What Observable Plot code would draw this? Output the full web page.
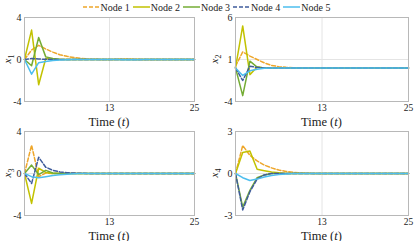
<!DOCTYPE html>
<html><head><meta charset="utf-8">
<script src="https://cdn.jsdelivr.net/npm/d3@7"></script>
<script src="https://cdn.jsdelivr.net/npm/@observablehq/plot@0.6"></script>
<style>
body{margin:0;background:#fff;}
#root{position:relative;width:416px;height:241px;overflow:hidden;font-family:"Liberation Serif","Times New Roman",serif;}
.panel{position:absolute;}
#root svg, #root svg text{font-family:"Liberation Serif","Times New Roman",serif !important;}
#legend{position:absolute;left:0;top:1px;width:416px;height:12px;display:flex;justify-content:center;align-items:center;font-size:10px;z-index:2;color:#222;}
#legend .item{display:flex;align-items:center;margin-right:3px;}
#legend svg{margin-right:1px;}
</style>
</head><body>
<div id="root"><div id="legend"></div></div>
<script>
const nodes = ["Node 1","Node 2","Node 3","Node 4","Node 5"];
const colors = ["#EEA62A","#C2C200","#74AC34","#3F5C9C","#4DBEEE"];
const dashes = ["4,2", null, null, "4,2", null];
const time = [1,2,3,4,5,6,7,8,9,10,11,12,13,14,15,16,17,18,19,20,21,22,23,24,25];
const xTicks = [13, 25];

// x1 panel
const x1_n1 = [0,0.9,1.35,1.0,0.7,0.45,0.3,0.18,0.1,0.05,0.02,0,0,0.02,0.03,0.02,0,0,0,0,0,0,0,0,0];
const x1_n2 = [0,2.8,-2.4,0.1,0,0,0,0,0,0,0,0,0,0,0,0,0,0,0,0,0,0,0,0,0];
const x1_n3 = [0,-0.6,2.1,0.25,0.1,0.03,0,0,0,0,0,0,0,0,0,0,0,0,0,0,0,0,0,0,0];
const x1_n4 = [0,0.1,0.05,0.02,0,0,0,0,0,0,0,0,0,0,0,0,0,0,0,0,0,0,0,0,0];
const x1_n5 = [0,-1.4,-0.3,-0.2,-0.1,-0.05,-0.02,0,0,0,0,0,0,0,-0.02,-0.03,-0.02,0,0,0,0,0,0,0,0];
// x2 panel
const x2_n1 = [0.2,1.9,1.4,1.0,0.6,0.3,0.15,0.07,0.03,0.01,0,0,0,0,0,0,0,0,0,0,0,0,0,0,0];
const x2_n2 = [0,5.0,-0.8,0.1,0,0,0,0,0,0,0,0,0,0,0,0,0,0,0,0,0,0,0,0,0];
const x2_n3 = [0,-3.3,0.8,0.1,0,0,0,0,0,0,0,0,0,0,0,0,0,0,0,0,0,0,0,0,0];
const x2_n4 = [0,-1.5,0.2,0.05,0,0,0,0,0,0,0,0,0,0,0,0,0,0,0,0,0,0,0,0,0];
const x2_n5 = [0,-0.9,-0.35,-0.15,-0.05,-0.02,0,0,0,0,0,0,0,0,0,0,0,0,0,0,0,0,0,0,0];
// x3 panel
const x3_n1 = [0,2.7,-0.3,0.05,0,0,0,0,0,0,0,0,0,0,0,0,0,0,0,0,0,0,0,0,0];
const x3_n2 = [0,-2.85,0.5,0.1,0,0,0,0,0,0,0,0,0,0,0,0,0,0,0,0,0,0,0,0,0];
const x3_n3 = [0,0.8,-0.1,0.3,0.05,0,0,0,0,0,0,0,0,0,0,0,0,0,0,0,0,0,0,0,0];
const x3_n4 = [0,-0.95,1.55,0.6,0.3,0.15,0.08,0.04,0.02,0,0,0,0,0,0,0,0,0,0,0,0,0,0,0,0];
const x3_n5 = [0,-0.3,-0.4,-0.3,-0.2,-0.12,-0.06,-0.03,0,0,0,0,0,0,0,0,0,0,0,0,0,0,0,0,0];
// x4 panel
const x4_n1 = [0,2.0,1.3,0.9,0.6,0.4,0.25,0.15,0.08,0.04,0.02,0,0,0,0,0,0,0,0,0,0,0,0,0,0];
const x4_n2 = [0,1.5,1.6,0.3,0.2,0.1,0.05,0,0,0,0,0,0,0,0,0,0,0,0,0,0,0,0,0,0];
const x4_n3 = [0,-2.4,-1.2,-0.3,-0.1,0,0,0,0,0,0,0,0,0,0,0,0,0,0,0,0,0,0,0,0];
const x4_n4 = [0,-2.6,-1.3,-0.4,-0.1,0,0,0,0,0,0,0,0,0,0,0,0,0,0,0,0,0,0,0,0];
const x4_n5 = [0,-0.3,-0.5,-0.4,-0.25,-0.15,-0.08,-0.04,0,0,0,0,0,0,0,0,0,0,0,0,0,0,0,0,0];

const yTicks1 = [-4,0,4], yTicks2 = [-4,1,6], yTicks3 = [-4,0,4], yTicks4 = [-3,0,3];
const serif = '"Liberation Serif","Times New Roman",serif';

const root = document.getElementById("root");

function panel(vals, yDomain, yTicks, gridY, sub, left, top, ml, mr, ylx) {
  const W = 208, H = 127, mt = 17, mb = 26;
  const marks = [
    Plot.ruleX([13], {stroke: "#e4e4e4", strokeWidth: 1}),
    Plot.ruleY([gridY], {stroke: "#e4e4e4", strokeWidth: 1})
  ];
  nodes.forEach((n, i) => {
    const data = time.map((t, j) => ({t, v: vals[i][j], node: n}));
    marks.push(Plot.line(data, {x: "t", y: "v", stroke: colors[i], strokeWidth: 1.5,
      strokeDasharray: dashes[i] || undefined}));
  });
  marks.push(Plot.frame({stroke: "#b8b8b8"}));
  marks.push(Plot.axisY({ticks: yTicks, tickSize: 0, tickPadding: 3, tickFormat: d => String(d), label: null, fontSize: 10}));
  marks.push(Plot.axisX({ticks: xTicks, tickSize: 0, tickPadding: 3, tickFormat: d => String(d), label: null, fontSize: 9.5}));
  const svg = Plot.plot({
    width: W, height: H, marginLeft: ml, marginRight: mr, marginTop: mt, marginBottom: mb,
    x: {domain: [1, 25]}, y: {domain: yDomain},
    style: {fontFamily: serif, background: "transparent", color: "#222", overflow: "visible"},
    marks
  });
  svg.classList.add("panel");
  svg.style.left = left + "px";
  svg.style.top = top + "px";
  const s = d3.select(svg);
  const cx = ml + (W - ml - mr) / 2;
  const xl = s.append("text").attr("x", cx).attr("y", mt + 84 + 24.5)
    .attr("text-anchor", "middle").attr("font-size", 12.5).attr("fill", "#222");
  xl.append("tspan").text("Time (");
  xl.append("tspan").attr("font-style", "italic").text("t");
  xl.append("tspan").text(")");
  const yl = s.append("text").attr("transform", `translate(${ylx},${mt + 42}) rotate(-90)`)
    .attr("text-anchor", "middle").attr("font-size", 11).attr("fill", "#222")
    .attr("dy", "0.35em");
  yl.append("tspan").attr("font-style", "italic").text("x");
  yl.append("tspan").attr("font-size", 8).attr("dy", 3).text(sub);
  root.appendChild(svg);
}

panel([x1_n1,x1_n2,x1_n3,x1_n4,x1_n5], [-4,4], yTicks1, 0, "1", 0, 0, 24, 14, 7);
panel([x2_n1,x2_n2,x2_n3,x2_n4,x2_n5], [-4,6], yTicks2, 1, "2", 208, 0, 27, 8, 6);
panel([x3_n1,x3_n2,x3_n3,x3_n4,x3_n5], [-4,4], yTicks3, 0, "3", 0, 114, 24, 14, 7);
panel([x4_n1,x4_n2,x4_n3,x4_n4,x4_n5], [-3,3], yTicks4, 0, "4", 208, 114, 27, 8, 6);

const legend = d3.select("#legend");
nodes.forEach((n, i) => {
  const item = legend.append("div").attr("class", "item");
  const sv = item.append("svg").attr("width", 17).attr("height", 6);
  sv.append("line").attr("x1", 0).attr("x2", 17).attr("y1", 3).attr("y2", 3)
    .attr("stroke", colors[i]).attr("stroke-width", 1.5)
    .attr("stroke-dasharray", dashes[i]);
  item.append("span").text(n);
});
</script>
</body></html>
